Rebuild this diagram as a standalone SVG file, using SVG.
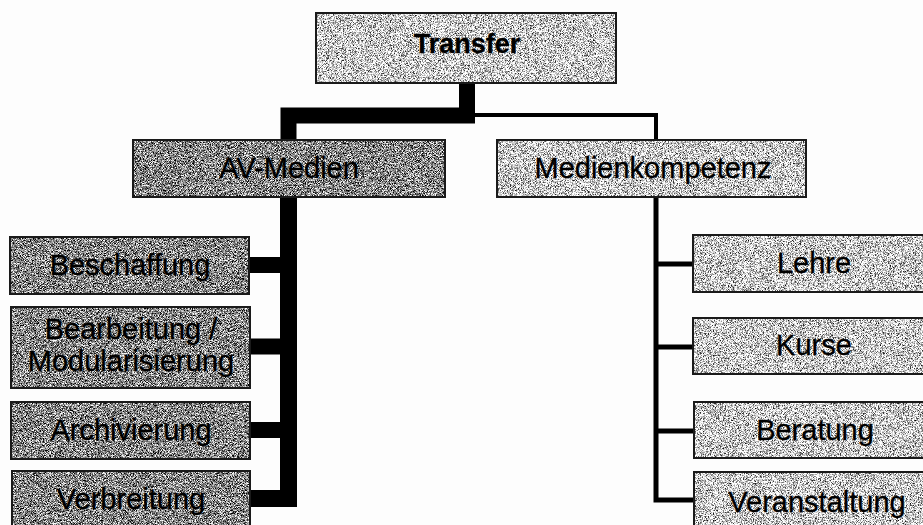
<svg xmlns="http://www.w3.org/2000/svg" width="923" height="525" viewBox="0 0 923 525">
<defs>
<filter id="nL" x="0" y="0" width="100%" height="100%" color-interpolation-filters="sRGB">
<feTurbulence type="fractalNoise" baseFrequency="1.4" numOctaves="1" seed="4"/>
<feColorMatrix type="matrix" values="2.8 0 0 0 -0.6  2.8 0 0 0 -0.6  2.8 0 0 0 -0.6  0 0 0 0 1"/>
<feComposite in2="SourceGraphic" operator="in"/>
</filter>
<filter id="nD" x="0" y="0" width="100%" height="100%" color-interpolation-filters="sRGB">
<feTurbulence type="fractalNoise" baseFrequency="1.4" numOctaves="1" seed="7"/>
<feColorMatrix type="matrix" values="2.8 0 0 0 -0.88  2.8 0 0 0 -0.88  2.8 0 0 0 -0.88  0 0 0 0 1"/>
<feComposite in2="SourceGraphic" operator="in"/>
</filter>
</defs>
<style>
.bL{fill:#c4c4c4;filter:url(#nL)}
.bD{fill:#878787;filter:url(#nD)}
.fr{fill:none;stroke:#1a1a1a;stroke-width:2}
.t{font-family:"Liberation Sans",Arial,sans-serif;font-size:29px;fill:#000;stroke:#000;stroke-width:0.3;text-anchor:middle}
.tb{font-weight:bold;font-size:27px}
.c{fill:none;stroke:#000;stroke-linejoin:miter;stroke-linecap:butt}
</style>
<rect width="923" height="525" fill="#fdfdfd"/>
<g id="connectors">
<path class="c" d="M467 83 V115.5 H288.5 V140" stroke-width="16"/>
<path class="c" d="M475 115 H656 V140" stroke-width="4"/>
<path class="c" d="M288.5 197 V498.5 H250" stroke-width="17"/>
<path class="c" d="M250 265 H290 M250 346.5 H290 M250 430 H290" stroke-width="16"/>
<path class="c" d="M656 197 V500 H693" stroke-width="5"/>
<path class="c" d="M656 264 H693 M656 347 H693 M656 431 H693" stroke-width="5"/>
</g>
<g id="transfer">
<rect class="bL" x="316" y="13" width="300" height="70"/>
<rect class="fr" x="316" y="13" width="300" height="70"/>
<text class="t tb" x="467" y="53">Transfer</text>
</g>
<g id="av-medien">
<rect class="bD" x="133" y="140" width="312" height="57"/>
<rect class="fr" x="133" y="140" width="312" height="57"/>
<text class="t" x="289" y="178">AV-Medien</text>
</g>
<g id="medienkompetenz">
<rect class="bL" x="497" y="140" width="309" height="57"/>
<rect class="fr" x="497" y="140" width="309" height="57"/>
<text class="t" x="653" y="178">Medienkompetenz</text>
</g>
<g id="beschaffung">
<rect class="bD" x="10" y="237" width="239" height="57"/>
<rect class="fr" x="10" y="237" width="239" height="57"/>
<text class="t" x="130" y="275">Beschaffung</text>
</g>
<g id="bearbeitung">
<rect class="bD" x="11" y="307" width="239" height="81"/>
<rect class="fr" x="11" y="307" width="239" height="81"/>
<text class="t" x="131" y="339">Bearbeitung /</text>
<text class="t" x="131" y="371">Modularisierung</text>
</g>
<g id="archivierung">
<rect class="bD" x="11" y="402" width="239" height="57"/>
<rect class="fr" x="11" y="402" width="239" height="57"/>
<text class="t" x="131" y="440">Archivierung</text>
</g>
<g id="verbreitung">
<rect class="bD" x="12" y="471" width="238" height="70"/>
<rect class="fr" x="12" y="471" width="238" height="70"/>
<text class="t" x="131" y="509">Verbreitung</text>
</g>
<g id="lehre">
<rect class="bL" x="693" y="235" width="250" height="57"/>
<rect class="fr" x="693" y="235" width="250" height="57"/>
<text class="t" x="814" y="273">Lehre</text>
</g>
<g id="kurse">
<rect class="bL" x="693" y="318" width="250" height="56"/>
<rect class="fr" x="693" y="318" width="250" height="56"/>
<text class="t" x="814" y="355">Kurse</text>
</g>
<g id="beratung">
<rect class="bL" x="694" y="402" width="250" height="56"/>
<rect class="fr" x="694" y="402" width="250" height="56"/>
<text class="t" x="815" y="440">Beratung</text>
</g>
<g id="veranstaltung">
<rect class="bL" x="694" y="472" width="250" height="70"/>
<rect class="fr" x="694" y="472" width="250" height="70"/>
<text class="t" x="817" y="512">Veranstaltung</text>
</g>
</svg>
